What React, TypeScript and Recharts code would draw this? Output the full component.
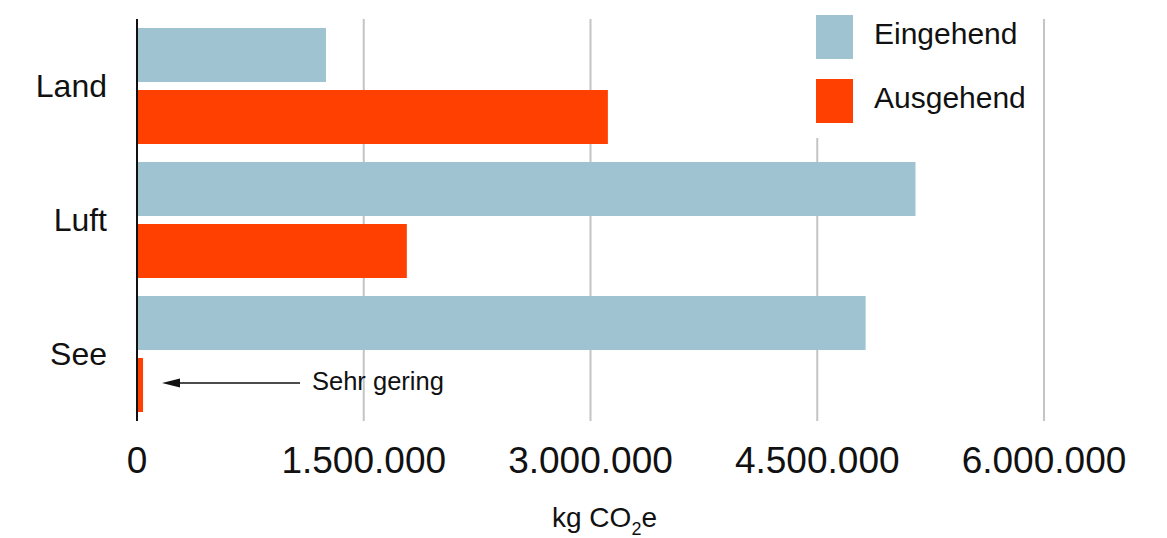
import React from 'react';
import { BarChart, Bar, XAxis, YAxis, CartesianGrid } from 'recharts';

const categories = ['Land', 'Luft', 'See'];
const eingehend = [1250000, 5150000, 4820000];
const ausgehend = [3115000, 1785000, 40000];
const xTicks = [0, 1500000, 3000000, 4500000, 6000000];

const BLUE = '#9fc3d1';
const ORANGE = '#ff4000';
const FONT = '"Liberation Sans", Arial, sans-serif';

const data = categories.map((name, i) => ({
  name,
  eingehend: eingehend[i],
  ausgehend: ausgehend[i],
}));

const formatTick = (v: number) => v.toLocaleString('de-DE');

const AxisTitle = (props: any) => {
  const { viewBox } = props;
  const cx = viewBox.x + viewBox.width / 2 + 14;
  return (
    <text x={cx} y={527} textAnchor="middle" fontSize={28} fontFamily={FONT} fill="#111">
      kg CO
      <tspan fontSize={18} dy={8}>2</tspan>
      <tspan dy={-8}>e</tspan>
    </text>
  );
};

const App: React.FC = () => {
  return (
    <div style={{ position: 'absolute', left: 0, top: 0, width: 1167, height: 538, background: '#fff', fontFamily: FONT }}>
      <BarChart
        width={1167}
        height={538}
        data={data}
        layout="vertical"
        margin={{ top: 19, right: 123, left: 0, bottom: 0 }}
        barSize={54}
        barGap={8}
      >
        <CartesianGrid horizontal={false} stroke="#c4c4c4" strokeWidth={2} />
        <XAxis
          type="number"
          domain={[0, 6000000]}
          ticks={xTicks}
          tickFormatter={formatTick}
          axisLine={false}
          tickLine={false}
          tickSize={0}
          tickMargin={26}
          height={117}
          interval={0}
          tick={{ fontSize: 37, fill: '#111', fontFamily: FONT }}
          label={{ content: AxisTitle } as any}
        />
        <YAxis
          type="category"
          dataKey="name"
          width={137}
          axisLine={{ stroke: '#111', strokeWidth: 2 }}
          tickLine={false}
          tickSize={0}
          tickMargin={30}
          tick={{ fontSize: 32, fill: '#111', fontFamily: FONT }}
        />
        <Bar dataKey="eingehend" fill={BLUE} isAnimationActive={false} />
        <Bar dataKey="ausgehend" fill={ORANGE} isAnimationActive={false} />
      </BarChart>

      {/* legend, with white backdrop covering the grid line */}
      <div style={{ position: 'absolute', left: 806, top: 0, width: 228, height: 138, background: '#fff' }}>
        <div style={{ position: 'absolute', left: 10, top: 15, width: 37, height: 44, background: BLUE }} />
        <div style={{ position: 'absolute', left: 68, top: 12, height: 44, lineHeight: '44px', fontSize: 30, color: '#111' }}>
          Eingehend
        </div>
        <div style={{ position: 'absolute', left: 10, top: 79, width: 37, height: 44, background: ORANGE }} />
        <div style={{ position: 'absolute', left: 68, top: 76, height: 44, lineHeight: '44px', fontSize: 30, color: '#111' }}>
          Ausgehend
        </div>
      </div>

      {/* annotation */}
      <svg style={{ position: 'absolute', left: 0, top: 0, pointerEvents: 'none' }} width={1167} height={538}>
        <line x1={300} y1={383} x2={175} y2={383} stroke="#111" strokeWidth={1.5} />
        <polygon points="162,383 180,378.5 180,387.5" fill="#111" />
        <text x={312} y={390} fontSize={25.5} fontFamily={FONT} fill="#111">
          Sehr gering
        </text>
      </svg>
    </div>
  );
};

export default App;
